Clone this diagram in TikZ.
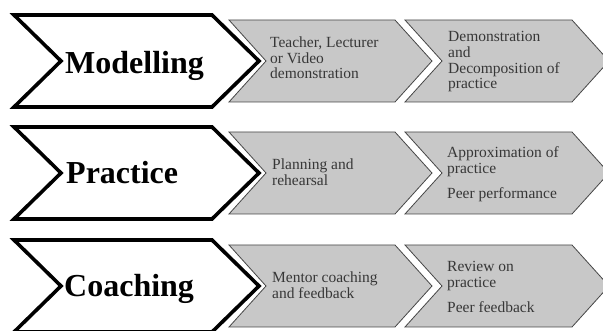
\documentclass[tikz,border=0pt]{standalone}
\usepackage{fontspec}
\setmainfont{Liberation Serif}
\definecolor{boxfill}{RGB}{200,200,200}
\definecolor{boxline}{RGB}{70,70,70}
\definecolor{boxtext}{RGB}{55,55,55}
% chevron outline: left x, right x, centre y, half height, point depth
\newcommand\chevron[5]{(#1,{#3-#4}) -- (#2,{#3-#4}) -- ({#2+#5},#3) -- (#2,{#3+#4}) -- (#1,{#3+#4}) -- ({#1+#5},#3) -- cycle}
\newcommand\lines[1]{\begin{tabular}[t]{@{}l@{}}#1\end{tabular}}
\begin{document}
\begin{tikzpicture}[x=1pt,y=-1pt,
  stage/.style={draw=black,line width=3.6pt,fill=white,line join=miter},
  detailbox/.style={draw=boxline,line width=0.8pt,fill=boxfill,line join=miter},
  title/.style={font=\fontsize{32}{36}\selectfont\bfseries,anchor=base west,inner sep=0pt},
  detail/.style={font=\fontsize{15.5}{15.5}\selectfont,text=boxtext,anchor=base west,inner sep=0pt}]
\useasboundingbox (0,0) rectangle (603,331);
\clip (0,0) rectangle (603,331);

% row 1: modelling
\draw[stage] \chevron{14}{212}{61}{46}{47};
\draw[detailbox] \chevron{229}{395}{61}{41}{37};
\draw[detailbox] \chevron{405}{572}{61}{41}{37};
\node[title] (modelling) at (65,74) {Modelling};
\node[detail] (teacher) at (270,48) {\lines{Teacher, Lecturer\\or Video\\demonstration}};
\node[detail] (decomp) at (448,42) {\lines{Demonstration\\and\\Decomposition of\\practice}};

% row 2: practice
\draw[stage] \chevron{14}{212}{173}{46}{47};
\draw[detailbox] \chevron{229}{395}{173}{41}{37};
\draw[detailbox] \chevron{405}{572}{173}{41}{37};
\node[title] (practice) at (66,184) {Practice};
\node[detail] (planning) at (272,170) {\lines{Planning and\\rehearsal}};
\node[detail] (approx) at (447,158) {\lines{Approximation of\\practice\\[9pt]Peer performance}};

% row 3: coaching
\draw[stage] \chevron{14}{212}{286}{46}{47};
\draw[detailbox] \chevron{229}{395}{286}{41}{37};
\draw[detailbox] \chevron{405}{572}{286}{41}{37};
\node[title] (coaching) at (64,297) {Coaching};
\node[detail] (mentor) at (272,283) {\lines{Mentor coaching\\and feedback}};
\node[detail] (review) at (447,272) {\lines{Review on\\practice\\[9pt]Peer feedback}};
\end{tikzpicture}
\end{document}
